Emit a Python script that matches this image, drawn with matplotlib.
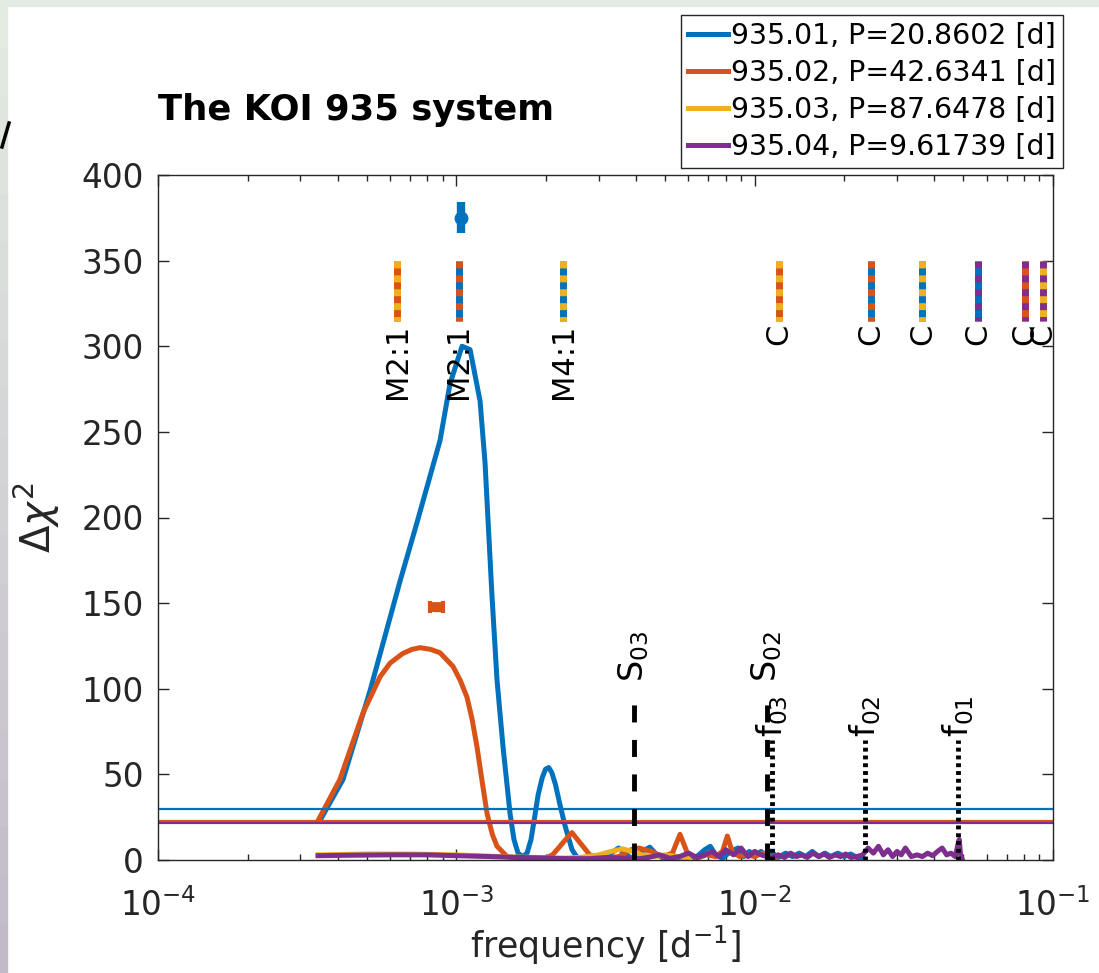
import matplotlib
matplotlib.use("Agg")
import matplotlib.pyplot as plt
from matplotlib.patches import Rectangle
from matplotlib.lines import Line2D

# MATLAB default colours
blue = "#0072BD"
orange = "#D95319"
yellow = "#EDB120"
purple = "#7E2F8E"

labels = ["935.01, P=20.8602 [d]", "935.02, P=42.6341 [d]",
          "935.03, P=87.6478 [d]", "935.04, P=9.61739 [d]"]

# delta chi^2 vs frequency
f_01 = [3.49e-4, 4.17e-4, 5.14e-4, 6.48e-4, 7.38e-4, 8.82e-4, 9.52e-4, 1.045e-3, 1.112e-3,
        1.201e-3, 1.248e-3, 1.317e-3, 1.369e-3, 1.434e-3, 1.514e-3, 1.56e-3, 1.61e-3, 1.67e-3,
        1.726e-3, 1.78e-3, 1.83e-3, 1.88e-3, 1.94e-3, 1.99e-3, 2.04e-3, 2.09e-3, 2.15e-3,
        2.22e-3, 2.314e-3, 2.443e-3, 2.55e-3, 2.64e-3, 2.85e-3, 3.05e-3, 3.3e-3, 3.5e-3, 3.7e-3,
        3.9e-3, 4.2e-3, 4.45e-3, 4.7e-3, 4.95e-3, 5.3e-3, 5.6e-3, 6.0e-3, 6.3e-3, 6.8e-3, 7.1e-3,
        7.4e-3, 7.8e-3, 8.3e-3, 8.8e-3, 9.2e-3, 9.6e-3, 1.0e-2, 1.05e-2, 1.1e-2, 1.15e-2, 1.2e-2,
        1.27e-2, 1.34e-2, 1.41e-2, 1.48e-2, 1.56e-2, 1.64e-2, 1.72e-2, 1.8e-2, 1.9e-2, 2.0e-2,
        2.1e-2, 2.2e-2, 2.3e-2]
chi_01 = [23, 47, 99, 163, 197, 245, 278, 300, 298,
          268, 232, 154, 105, 66, 27, 12, 4, 2,
          4, 12, 25, 38, 48, 53, 54, 51, 44,
          33, 20, 6, 1, 0.5, 2.5, 0.5, 4, 7, 3,
          1, 5, 7.5, 3, 1, 3, 1, 4, 1, 6, 8,
          3, 1, 5, 7, 2, 5, 2, 5, 2, 4, 1.5,
          4, 2, 4, 2, 5, 2, 4, 2, 4, 2,
          3.5, 1.5, 1]

f_02 = [3.44e-4, 4.07e-4, 4.87e-4, 5.55e-4, 6.0e-4, 6.6e-4, 7.1e-4, 7.56e-4, 8.2e-4, 8.82e-4,
        9.75e-4, 1.03e-3, 1.086e-3, 1.13e-3, 1.173e-3, 1.22e-3, 1.268e-3, 1.32e-3, 1.369e-3,
        1.48e-3, 1.7e-3, 1.95e-3, 2.1e-3, 2.2e-3, 2.3e-3, 2.44e-3, 2.6e-3, 2.8e-3, 3.1e-3,
        3.5e-3, 3.85e-3, 4.1e-3, 4.5e-3, 4.9e-3, 5.3e-3, 5.62e-3, 5.95e-3, 6.4e-3, 6.9e-3,
        7.4e-3, 7.8e-3, 8.1e-3, 8.4e-3, 8.9e-3, 9.4e-3, 1.0e-2, 1.06e-2, 1.12e-2, 1.17e-2]
chi_02 = [23, 47, 86, 107, 115, 120.5, 123, 124, 123, 121,
          113, 105, 95, 82, 66, 46, 27, 15, 8,
          2, 0.5, 0.5, 3, 7, 11, 16, 10, 3, 1,
          2, 6, 7, 5, 2, 4, 15, 4, 1, 3,
          2, 5, 14, 5, 2, 3, 2, 4, 2, 1]

f_03 = [3.44e-4, 5e-4, 7e-4, 1.0e-3, 1.4e-3, 1.8e-3, 2.2e-3, 2.6e-3, 3.0e-3, 3.3e-3, 3.6e-3,
        3.9e-3, 4.2e-3, 4.6e-3, 5.0e-3, 5.5e-3, 6.0e-3]
chi_03 = [3, 3.5, 3.5, 3, 2, 1.5, 1, 1.5, 3, 5, 6.5,
          5, 3, 2, 3, 2, 1]

f_04 = [3.44e-4, 4.5e-4, 6e-4, 8e-4, 1.0e-3, 1.3e-3, 1.6e-3, 2.0e-3, 2.4e-3, 2.8e-3, 3.2e-3,
        3.6e-3, 4.0e-3, 4.4e-3, 4.8e-3, 5.2e-3, 5.6e-3, 6.0e-3, 6.4e-3, 6.8e-3, 7.2e-3, 7.6e-3,
        8.0e-3, 8.5e-3, 9.0e-3, 9.5e-3, 1.0e-2, 1.05e-2, 1.1e-2, 1.15e-2, 1.2e-2, 1.26e-2,
        1.32e-2, 1.38e-2, 1.44e-2, 1.5e-2, 1.57e-2, 1.64e-2, 1.71e-2, 1.78e-2, 1.86e-2, 1.94e-2,
        2.02e-2, 2.1e-2, 2.2e-2, 2.3e-2, 2.4e-2, 2.5e-2, 2.6e-2, 2.7e-2, 2.8e-2, 2.9e-2, 3.0e-2,
        3.1e-2, 3.2e-2, 3.35e-2, 3.5e-2, 3.65e-2, 3.8e-2, 3.95e-2, 4.1e-2, 4.25e-2, 4.4e-2,
        4.55e-2, 4.7e-2, 4.8e-2, 4.85e-2, 4.9e-2, 4.95e-2]
chi_04 = [2.5, 2.8, 3, 3, 2.5, 2, 1.5, 1.2, 0.8, 0.8, 1.5,
          1, 0.5, 1.5, 3, 1, 2, 4, 1.5, 3, 5, 2,
          6, 3, 7, 2, 5, 3, 2, 1.5, 3, 1.5,
          4, 2, 3, 1.5, 4, 2, 3.5, 1.5, 3, 2,
          3.5, 1.5, 2, 3, 7, 4, 8, 3, 6, 2, 5,
          3, 7, 2, 3, 2, 4, 2.5, 5, 7, 3,
          4, 2, 9, 12, 3, 1]

# detection thresholds
thr = [30, 22.5, 22, 21.5]

# best-fit markers with error bars
best_01 = (1.04e-3, 375, 9)        # f, chi, yerr
best_02 = (8.6e-4, 148, 4.5e-5)    # f, chi, xerr

# resonance / commensurability marks: frequency, top colour, bottom colour, label
res_f = [6.33e-4, 1.02e-3, 2.28e-3, 1.205e-2, 2.445e-2, 3.65e-2, 5.61e-2, 8.04e-2, 9.26e-2]
res_top = [yellow, orange, yellow, yellow, orange, yellow, purple, purple, purple]
res_bot = [orange, blue, blue, orange, blue, blue, blue, orange, yellow]
res_lab = ["M2:1", "M2:1", "M4:1", "C", "C", "C", "C", "C", "C"]

# period / super-period lines
super_f = [3.94e-3, 1.10e-2]
super_lab = ["S$_{03}$", "S$_{02}$"]
orb_f = [1.141e-2, 2.346e-2, 4.794e-2]
orb_lab = ["f$_{03}$", "f$_{02}$", "f$_{01}$"]

W, H = 1099, 973
fig = plt.figure(figsize=(W / 100, H / 100), dpi=100)
ax = fig.add_axes([158 / W, 1 - 860 / H, (1053 - 158) / W, (860 - 175) / H])

series = [(f_01, chi_01, blue), (f_02, chi_02, orange), (f_03, chi_03, yellow), (f_04, chi_04, purple)]
for (f, c, col), lab in zip(series, labels):
    ax.plot(f, c, color=col, lw=3.6, label=lab, solid_joinstyle="round")

for t, col in zip(thr, [blue, orange, yellow, purple]):
    if col != yellow:
        ax.axhline(t, color=col, lw=1.6)

ax.errorbar([best_01[0]], [best_01[1]], yerr=[best_01[2]], fmt="o", color=blue,
            ms=9, lw=6, capsize=0)
ax.errorbar([best_02[0]], [best_02[1]], xerr=[best_02[2]], fmt="s", color=orange,
            ms=6, lw=7, capsize=4, capthick=3)

# two-colour dashed marks
for f, ct, cb, lab in zip(res_f, res_top, res_bot, res_lab):
    ax.plot([f, f], [350, 315], color=cb, lw=5, solid_capstyle="butt")
    ax.plot([f, f], [350, 315], color=ct, lw=5, linestyle=(0, (1.0, 1.0)),
            dash_capstyle="butt")
    ax.text(f, 313, lab, rotation=90, ha="center", va="top", fontsize=22, color="black",
            clip_on=False)

for f, lab in zip(super_f, super_lab):
    ax.plot([f, f], [0, 95], color="black", lw=3.5, linestyle=(0, (3.5, 3.6)),
            dash_capstyle="butt")
    ax.text(f, 104, lab, rotation=90, ha="center", va="bottom", fontsize=24, color="black")

for f, lab in zip(orb_f, orb_lab):
    ax.plot([f, f], [0, 70], color="black", lw=3.5, linestyle=(0, (0.8, 0.8)),
            dash_capstyle="butt")
    ax.text(f, 72, lab, rotation=90, ha="center", va="bottom", fontsize=24, color="black")

ax.set_xscale("log")
ax.set_xlim(1e-4, 1e-1)
ax.set_ylim(0, 400)
ax.set_yticks(range(0, 401, 50))
ax.set_xticks([1e-4, 1e-3, 1e-2, 1e-1])
ax.tick_params(which="both", direction="in", top=True, right=True, colors="#262626",
               labelsize=23.5, width=1)
ax.tick_params(which="major", length=8)
ax.tick_params(axis="x", which="major", pad=20)
ax.tick_params(axis="y", which="major", pad=10)
ax.tick_params(which="minor", length=4)
for s in ax.spines.values():
    s.set_color("#262626")
    s.set_linewidth(1)

ax.set_xlabel("frequency [d$^{-1}$]", fontsize=25, color="#262626", labelpad=1)
ax.set_ylabel("$\\Delta\\chi^2$", fontsize=29, color="#262626", labelpad=14)

fig.text(158 / W, 1 - 120 / H, "The KOI 935 system", fontsize=25.5, fontweight="bold",
         ha="left", va="baseline")

leg = ax.legend(loc="upper right", bbox_to_anchor=(1063 / W, 1 - 15 / H),
                bbox_transform=fig.transFigure, fontsize=20.4, handlelength=1.4,
                handletextpad=0.1, labelspacing=0.32, borderpad=0.25, borderaxespad=0,
                fancybox=False, framealpha=1, edgecolor="#262626")
leg.get_frame().set_linewidth(1)

# slide background showing around the figure
fig.patches.append(Rectangle((0, 1 - 6 / H), 1, 6 / H, transform=fig.transFigure,
                             color="#e2ebe2", zorder=-1))
for i in range(20):
    t = i / 19
    col = (0.89 - 0.13 * t, 0.92 - 0.19 * t, 0.88 - 0.09 * t)
    fig.patches.append(Rectangle((0, 1 - (i + 1) / 20), 7 / W, 1 / 20,
                                 transform=fig.transFigure, color=col, zorder=-1))
fig.lines.append(Line2D([9 / W, 2 / W], [1 - 123 / H, 1 - 147 / H], transform=fig.transFigure,
                        color="black", lw=2.5))

fig.savefig("out.png", dpi=100)
